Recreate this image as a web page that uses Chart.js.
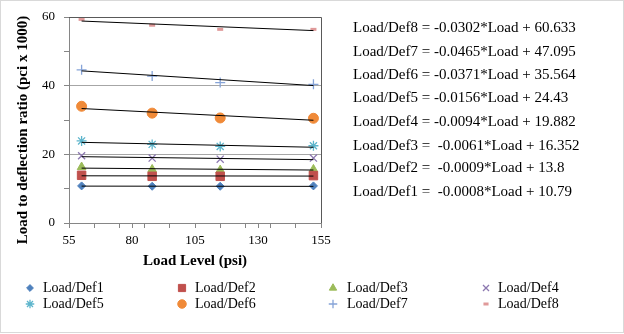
<!DOCTYPE html>
<html>
<head>
<meta charset="utf-8">
<script src="https://cdn.jsdelivr.net/npm/chart.js@4/dist/chart.umd.min.js"></script>
<style>
  html, body { margin: 0; padding: 0; background: #fff; }
</style>
</head>
<body>
<canvas id="loadChart" width="624" height="334"></canvas>
<script>
/* ================= DATA ================= */
const loadLevels = [60, 88, 115, 152];
const seriesNames = ["Load/Def1", "Load/Def2", "Load/Def3", "Load/Def4",
                     "Load/Def5", "Load/Def6", "Load/Def7", "Load/Def8"];
const def1 = [10.8, 10.7, 10.7, 10.8];
const def2 = [13.9, 13.6, 13.6, 13.8];
const def3 = [16.3, 15.6, 15.4, 15.6];
const def4 = [19.6, 18.9, 18.6, 18.9];
const def5 = [23.9, 22.9, 22.3, 22.5];
const def6 = [34.0, 32.0, 30.6, 30.5];
const def7 = [44.6, 42.8, 40.9, 40.4];
const def8 = [59.3, 57.6, 56.4, 56.4];
const seriesValues = [def1, def2, def3, def4, def5, def6, def7, def8];

// trendline coefficients, as printed beside the chart
const slopes = [-0.0008, -0.0009, -0.0061, -0.0094, -0.0156, -0.0371, -0.0465, -0.0302];
const intercepts = [10.79, 13.8, 16.352, 19.882, 24.43, 35.564, 47.095, 60.633];
const equationLabels = [
    "Load/Def8 = -0.0302*Load + 60.633",
    "Load/Def7 = -0.0465*Load + 47.095",
    "Load/Def6 = -0.0371*Load + 35.564",
    "Load/Def5 = -0.0156*Load + 24.43",
    "Load/Def4 = -0.0094*Load + 19.882",
    "Load/Def3 =  -0.0061*Load + 16.352",
    "Load/Def2 =  -0.0009*Load + 13.8",
    "Load/Def1 =  -0.0008*Load + 10.79"
];

const xTicks = [55, 65, 75, 80, 85, 95, 105, 115, 125, 130, 135, 145, 155];
const xLabels = [55, 80, 105, 130, 155];
const yTicks = [0, 10, 20, 30, 40, 50, 60];
const yLabels = [0, 20, 40, 60];
const yTitle = "Load to deflection ratio (pci x 1000)";

/* ================= STYLE ================= */
const FONT = "'Liberation Serif', 'Times New Roman', serif";
const colors = ["#4F81BD", "#C0504D", "#9BBB59", "#8C78B0",
                "#5DB5CC", "#F08A38", "#86A4D8", "#E09A9A"];
const pointStyles = ["rectRot", "rect", "triangle", "crossRot",
                     "star", "circle", "cross", "line"];
const pointSizes = [4, 6, 5, 5, 5, 5, 5, 3];
const pointBorders = [1, 1, 1, 1.3, 1.3, 1, 1.3, 3];

const datasets = [];
seriesValues.forEach((vals, i) => {
    datasets.push({
        type: "scatter",
        label: seriesNames[i],
        data: loadLevels.map((x, k) => ({ x: x, y: vals[k] })),
        pointStyle: pointStyles[i],
        pointRadius: pointSizes[i],
        pointHoverRadius: pointSizes[i],
        backgroundColor: colors[i],
        borderColor: colors[i],
        pointBorderWidth: pointBorders[i],
        showLine: false,
        order: 1
    });
});
seriesValues.forEach((vals, i) => {
    const x0 = loadLevels[0], x1 = loadLevels[loadLevels.length - 1];
    datasets.push({
        type: "line",
        label: "trend" + (i + 1),
        data: [
            { x: x0, y: slopes[i] * x0 + intercepts[i] },
            { x: x1, y: slopes[i] * x1 + intercepts[i] }
        ],
        borderColor: "#000",
        borderWidth: 1,
        pointRadius: 0,
        fill: false,
        order: 0
    });
});

/* ================= EXTRAS (frame, titles, equations, legend) ================= */
const extras = {
    id: "extras",
    beforeDraw(chart) {
        const ctx = chart.ctx;
        ctx.save();
        ctx.fillStyle = "#fff";
        ctx.fillRect(0, 0, chart.width, chart.height);
        ctx.restore();
    },
    afterDatasetsDraw(chart) {
        const ctx = chart.ctx;
        const a = chart.chartArea;
        ctx.save();
        // plot frame top / right
        ctx.strokeStyle = "#595959";
        ctx.lineWidth = 1;
        ctx.beginPath();
        ctx.moveTo(a.left, Math.round(a.top) + 0.5);
        ctx.lineTo(Math.round(a.right) + 0.5, Math.round(a.top) + 0.5);
        ctx.lineTo(Math.round(a.right) + 0.5, a.bottom);
        ctx.stroke();
        ctx.restore();
    },
    afterDraw(chart) {
        const ctx = chart.ctx;
        ctx.save();

        // y axis title (sits a little below the plot's centre in the original)
        ctx.save();
        ctx.translate(23, 130);
        ctx.rotate(-Math.PI / 2);
        ctx.fillStyle = "#000";
        ctx.font = "bold 15px " + FONT;
        ctx.textAlign = "center";
        ctx.textBaseline = "middle";
        ctx.fillText(yTitle, 0, 0);
        ctx.restore();

        // equations
        ctx.fillStyle = "#000";
        ctx.font = "15px " + FONT;
        ctx.textBaseline = "middle";
        ctx.textAlign = "left";
        const eqY = [28, 52, 75, 98, 122, 146, 168, 192];
        equationLabels.forEach((t, i) => ctx.fillText(t, 353, eqY[i]));

        // legend
        ctx.font = "14px " + FONT;
        const colMarker = [30, 182, 333, 486];
        const colText = [43, 195, 347, 498];
        const rowY = [288, 304];
        seriesNames.forEach((name, i) => {
            const c = i % 4, r = Math.floor(i / 4);
            ctx.fillStyle = colors[i];
            ctx.strokeStyle = colors[i];
            ctx.lineWidth = pointBorders[i];
            Chart.helpers.drawPoint(ctx, {
                pointStyle: pointStyles[i],
                radius: pointSizes[i] * 0.85,
                rotation: 0,
                borderWidth: pointBorders[i]
            }, colMarker[c], rowY[r]);
            ctx.fillStyle = "#000";
            ctx.fillText(name, colText[c], rowY[r]);
        });

        // outer frame
        ctx.strokeStyle = "#d9d9d9";
        ctx.lineWidth = 1;
        ctx.strokeRect(0.5, 0.5, chart.width - 1, chart.height - 2);
        ctx.restore();
    }
};

/* ================= CHART ================= */
new Chart(document.getElementById("loadChart").getContext("2d"), {
    data: { datasets: datasets },
    options: {
        responsive: false,
        animation: false,
        events: [],
        layout: { padding: { left: 0, top: 17, right: 303, bottom: 60 } },
        plugins: { legend: { display: false }, tooltip: { enabled: false } },
        scales: {
            x: {
                type: "linear",
                min: 55,
                max: 155,
                afterBuildTicks: s => { s.ticks = xTicks.map(v => ({ value: v })); },
                afterFit: s => { s.height = 51; },
                border: { color: "#868686" },
                grid: { drawOnChartArea: false, tickLength: 5, tickColor: "#868686" },
                ticks: {
                    autoSkip: false,
                    maxRotation: 0,
                    padding: 5,
                    color: "#000",
                    font: { family: FONT, size: 13 },
                    callback: v => xLabels.includes(v) ? String(v) : ""
                },
                title: {
                    display: true,
                    text: "Load Level (psi)",
                    color: "#000",
                    font: { family: FONT, size: 15, weight: "bold" },
                    padding: { top: 0, bottom: 4 }
                }
            },
            y: {
                min: 0,
                max: 60,
                afterBuildTicks: s => { s.ticks = yTicks.map(v => ({ value: v })); },
                afterFit: s => { s.width = 69; },
                border: { color: "#868686" },
                grid: {
                    color: c => (c.tick && (c.tick.value === 20 || c.tick.value === 40)) ? "#a6a6a6" : "rgba(0,0,0,0)",
                    tickColor: "#868686",
                    tickLength: 5
                },
                ticks: {
                    padding: 9,
                    color: "#000",
                    font: { family: FONT, size: 13 },
                    callback: v => yLabels.includes(v) ? String(v) : ""
                }
            }
        }
    },
    plugins: [extras]
});
</script>
</body>
</html>
